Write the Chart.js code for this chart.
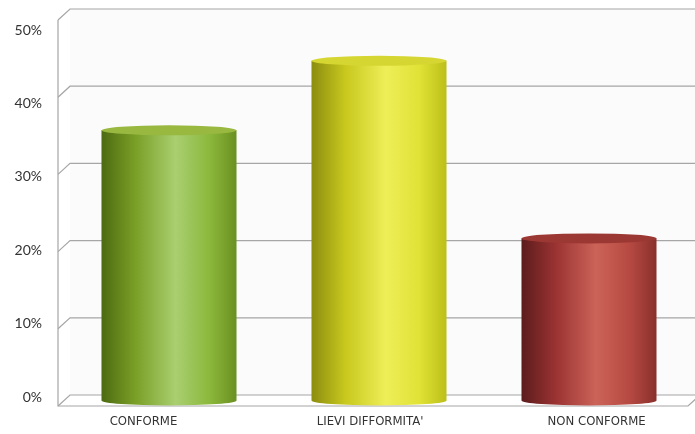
<!DOCTYPE html>
<html lang="it">
  <head>
    <meta charset="UTF-8" />
    <title>Conformità</title>
    <script src="https://cdn.jsdelivr.net/npm/chart.js"></script>
    <style>
      html, body { margin: 0; padding: 0; background: #ffffff; }
      canvas { display: block; }
    </style>
  </head>

  <body>
    <canvas id="chart" width="695" height="434"></canvas>

    <script>
      const categories = ["CONFORME", "LIEVI DIFFORMITA'", "NON CONFORME"];
      const percentages = [35, 44, 21];
      const yTicks = [0, 10, 20, 30, 40, 50];

      // colori dei cilindri: ombra, tono, luce, tono, bordo + faccia superiore
      const bodyStops = [
        ["#4c6a12", "#7a9f26", "#a9cf70", "#8cb83c", "#6a9020"],
        ["#8c8c10", "#c8c81e", "#eeee58", "#e0e236", "#bcbf18"],
        ["#5c1c1c", "#9a3232", "#cc6358", "#b64a42", "#8a2f2c"],
      ];
      const topColors = ["#98b840", "#d6d632", "#9c3833"];

      // profondità della prospettiva (metà verso il fondo, metà verso il fronte)
      const DX = 6;
      const DY = 5.5;

      const perspectiveGrid = {
        id: "perspectiveGrid",
        beforeDatasetsDraw(chart) {
          const { ctx, chartArea } = chart;
          const y = chart.scales.y;
          const left = chartArea.left;
          const right = chartArea.right;
          const top = y.getPixelForValue(50);
          const zero = y.getPixelForValue(0);

          ctx.save();
          // parete di fondo
          ctx.fillStyle = "#fbfbfb";
          ctx.fillRect(left + DX, top - DY, right - left + 20, zero - top);

          ctx.strokeStyle = "#a6a6a6";
          ctx.lineWidth = 1.2;
          yTicks.forEach((v) => {
            const py = y.getPixelForValue(v);
            ctx.beginPath();
            ctx.moveTo(left - DX, py + DY);
            ctx.lineTo(left + DX, py - DY);
            ctx.lineTo(right + 20, py - DY);
            ctx.stroke();
          });

          // spigolo sinistro e bordo del pavimento
          ctx.beginPath();
          ctx.moveTo(left - DX, top + DY);
          ctx.lineTo(left - DX, zero + DY);
          ctx.lineTo(right - DX, zero + DY);
          ctx.lineTo(right + DX, zero - DY);
          ctx.stroke();
          ctx.restore();
        },
      };

      const cylinders = {
        id: "cylinders",
        afterDatasetsDraw(chart) {
          const { ctx } = chart;
          const meta = chart.getDatasetMeta(0);
          meta.data.forEach((bar, i) => {
            const rx = bar.width / 2;
            const ry = 5;
            const x0 = bar.x - rx;
            const x1 = bar.x + rx;

            const grad = ctx.createLinearGradient(x0, 0, x1, 0);
            const stops = bodyStops[i];
            [0, 0.25, 0.55, 0.8, 1].forEach((s, k) => grad.addColorStop(s, stops[k]));

            ctx.save();
            // corpo con fondo arrotondato
            ctx.fillStyle = grad;
            ctx.beginPath();
            ctx.moveTo(x0, bar.y);
            ctx.lineTo(x0, bar.base);
            ctx.ellipse(bar.x, bar.base, rx, ry, 0, Math.PI, 0, true);
            ctx.lineTo(x1, bar.y);
            ctx.closePath();
            ctx.fill();

            // faccia superiore
            ctx.fillStyle = topColors[i];
            ctx.beginPath();
            ctx.ellipse(bar.x, bar.y, rx, ry, 0, 0, Math.PI * 2);
            ctx.fill();
            ctx.restore();
          });
        },
      };

      new Chart(document.getElementById("chart"), {
        type: "bar",
        data: {
          labels: categories,
          datasets: [
            {
              data: percentages,
              backgroundColor: "rgba(0,0,0,0)",
              categoryPercentage: 1,
              barPercentage: 0.643,
            },
          ],
        },
        options: {
          responsive: false,
          animation: false,
          layout: { padding: { top: 14.5, right: 1, left: 0, bottom: 0 } },
          plugins: { legend: { display: false }, tooltip: { enabled: false } },
          scales: {
            x: { type: "category", display: false },
            y: { min: 0, max: 50, display: false },
            // etichette percentuali
            yl: {
              type: "linear",
              position: "left",
              min: -0.477,
              max: 52.112,
              bounds: "data",
              afterBuildTicks: (axis) => {
                axis.ticks = yTicks.map((v) => ({ value: v }));
              },
              afterFit: (axis) => {
                axis.width = 64;
                axis.paddingTop = 0;
                axis.paddingBottom = 0;
              },
              grid: { display: false, drawTicks: false },
              border: { display: false },
              ticks: {
                padding: 22,
                color: "#333333",
                font: { family: "Lato", size: 14 },
                callback: (v) => v + "%",
              },
            },
            // etichette delle categorie
            xl: {
              type: "linear",
              position: "bottom",
              offset: false,
              min: -0.351,
              max: 2.43,
              bounds: "data",
              afterBuildTicks: (axis) => {
                axis.ticks = categories.map((c, i) => ({ value: i }));
              },
              afterFit: (axis) => {
                axis.height = 33.5;
                axis.paddingLeft = 0;
                axis.paddingRight = 0;
              },
              grid: { display: false, drawTicks: false },
              border: { display: false },
              ticks: {
                padding: 13,
                maxRotation: 0,
                autoSkip: false,
                color: "#333333",
                font: { family: "'Liberation Sans Narrow', 'DejaVu Sans Condensed', sans-serif", size: 13 },
                callback: (v) => categories[v],
              },
            },
          },
        },
        plugins: [perspectiveGrid, cylinders],
      });
    </script>
  </body>
</html>
